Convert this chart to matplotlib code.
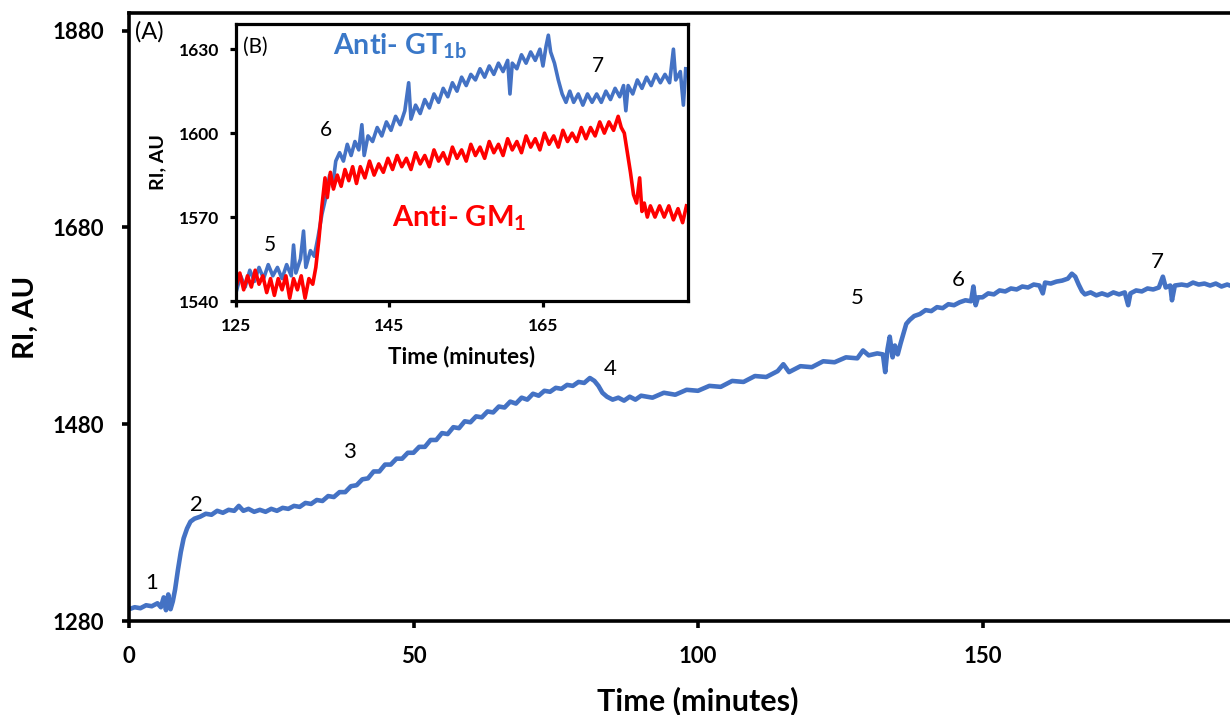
import matplotlib
matplotlib.use("Agg")
import matplotlib.pyplot as plt

plt.rcParams['font.family'] = ['Lato', 'DejaVu Sans']
plt.rcParams['mathtext.fontset'] = 'custom'
plt.rcParams['mathtext.rm'] = 'Lato'
plt.rcParams['mathtext.bf'] = 'Lato:bold'

# ---------------- main trace (A): (time, RI) ----------------
main_trace = [
    (0, 1292), (1, 1294), (2, 1293), (3, 1296), (4, 1295), (5, 1298), (5.6, 1294), (6.1, 1304),
    (6.5, 1291), (6.9, 1307), (7.3, 1292), (7.7, 1300), (8.1, 1312), (8.6, 1332), (9.1, 1350),
    (9.6, 1364), (10.2, 1374), (10.8, 1381), (11.5, 1384), (12.5, 1386), (13.5, 1389),
    (14.5, 1388), (15.5, 1392), (16.5, 1390), (17.5, 1393), (18.5, 1392), (19.3, 1397),
    (20.1, 1392), (21, 1394), (22, 1391), (23, 1393), (24, 1391), (25, 1394), (26, 1392),
    (27, 1395), (28, 1394), (29, 1397), (30, 1396), (31, 1400), (32, 1399), (33, 1403),
    (34, 1402), (35, 1407), (36, 1406), (37, 1411), (38, 1411), (39, 1417), (40, 1418),
    (41, 1424), (42, 1425), (43, 1432), (44, 1432), (45, 1439), (46, 1439), (47, 1445),
    (48, 1445), (49, 1451), (50, 1451), (51, 1457), (52, 1457), (53, 1464), (54, 1464),
    (55, 1471), (56, 1470), (57, 1477), (58, 1476), (59, 1483), (60, 1482), (61, 1488),
    (62, 1487), (63, 1493), (64, 1492), (65, 1498), (66, 1497), (67, 1503), (68, 1501),
    (69, 1507), (70, 1505), (71, 1511), (72, 1509), (73, 1514), (74, 1513), (75, 1517),
    (76, 1516), (77, 1520), (78, 1519), (79, 1523), (80, 1522), (81, 1527), (81.8, 1524),
    (82.5, 1519), (83.2, 1512), (84, 1508), (85, 1505), (86, 1507), (87, 1504), (88, 1508),
    (89, 1505), (90, 1509), (92, 1507), (94, 1512), (96, 1510), (98, 1515), (100, 1514),
    (102, 1519), (104, 1518), (106, 1524), (108, 1523), (110, 1529), (112, 1528), (114, 1534),
    (115, 1541), (116, 1533), (118, 1539), (120, 1538), (122, 1544), (124, 1543), (126, 1548),
    (128, 1547), (129, 1555), (130, 1550), (131.5, 1552), (132.5, 1551), (132.9, 1533),
    (133.3, 1556), (133.7, 1569), (134.2, 1548), (134.6, 1560), (135.1, 1551), (135.6, 1562),
    (136.1, 1572), (136.6, 1582), (137.2, 1586), (138.0, 1590), (139, 1592), (140, 1596),
    (141, 1595), (142, 1599), (143, 1598), (144, 1602), (145, 1601), (146, 1604), (147, 1606),
    (148, 1605), (148.4, 1620), (148.8, 1601), (149.2, 1609), (150, 1609), (151, 1613),
    (152, 1612), (153, 1616), (154, 1615), (155, 1618), (156, 1617), (157, 1620), (158, 1619),
    (159, 1622), (160, 1621), (160.6, 1613), (161, 1624), (162, 1623), (163, 1625), (164, 1626),
    (165, 1628), (165.7, 1633), (166.3, 1630), (166.9, 1622), (167.5, 1615), (168, 1612),
    (169, 1614), (170, 1611), (171, 1613), (172, 1611), (173, 1614), (174, 1612), (175, 1614),
    (175.6, 1601), (176, 1613), (177, 1616), (178, 1615), (179, 1618), (180, 1617), (181, 1619),
    (181.7, 1630), (182.2, 1619), (183, 1621), (183.3, 1606), (183.8, 1621), (185, 1622),
    (186, 1621), (187, 1624), (188, 1622), (189, 1623), (190, 1621), (191, 1623), (192, 1620),
    (193, 1622), (194, 1620), (196, 1621),
]
main_labels = ['1', '2', '3', '4', '5', '6', '7']
main_label_t = [4.0, 11.8, 38.8, 84.5, 127.9, 145.7, 180.7]
main_label_v = [1319, 1398, 1452, 1536, 1608, 1627, 1645]

# ---------------- inset traces (B) ----------------
gt_trace = [
    (125.0, 1543), (125.6, 1549), (126.2, 1545), (126.8, 1551), (127.4, 1547), (128.0, 1552),
    (128.6, 1548), (129.2, 1553), (129.8, 1549), (130.4, 1552), (131.0, 1548), (131.6, 1553),
    (132.2, 1549), (132.5, 1560), (132.8, 1550), (133.4, 1555), (133.8, 1565), (134.1, 1552),
    (134.7, 1558), (135.2, 1556), (135.7, 1563), (136.2, 1571), (136.7, 1577), (137.2, 1585),
    (137.6, 1581), (138.0, 1590), (138.5, 1593), (139.0, 1590), (139.5, 1596), (140.0, 1592),
    (140.5, 1597), (141.0, 1594), (141.4, 1603), (141.7, 1592), (142.2, 1599), (142.8, 1597),
    (143.4, 1602), (144.0, 1599), (144.6, 1604), (145.2, 1601), (145.8, 1606), (146.4, 1603),
    (147.0, 1608), (147.5, 1618), (147.8, 1605), (148.4, 1610), (149.0, 1607), (149.6, 1612),
    (150.2, 1609), (150.8, 1614), (151.4, 1611), (152.0, 1616), (152.6, 1613), (153.2, 1618),
    (153.8, 1615), (154.4, 1620), (155.0, 1617), (155.6, 1621), (156.2, 1619), (156.8, 1623),
    (157.4, 1620), (158.0, 1624), (158.6, 1621), (159.2, 1625), (159.8, 1622), (160.4, 1626),
    (160.7, 1614), (161.0, 1625), (161.6, 1623), (162.2, 1628), (162.8, 1625), (163.4, 1629),
    (164.0, 1626), (164.6, 1630), (165.0, 1624), (165.4, 1631), (165.7, 1635), (166.0, 1629),
    (166.5, 1625), (167.0, 1619), (167.5, 1614), (168.0, 1611), (168.5, 1615), (169.0, 1611),
    (169.6, 1614), (170.2, 1610), (170.8, 1614), (171.4, 1611), (172.0, 1614), (172.6, 1611),
    (173.2, 1615), (173.8, 1612), (174.4, 1616), (175.0, 1613), (175.5, 1617), (175.8, 1608),
    (176.1, 1617), (176.7, 1614), (177.3, 1619), (177.9, 1616), (178.5, 1620), (179.1, 1617),
    (179.7, 1621), (180.3, 1618), (180.9, 1621), (181.5, 1618), (182.0, 1630), (182.3, 1619),
    (182.9, 1622), (183.3, 1610), (183.6, 1623),
]
gm_trace = [
    (125.0, 1545), (125.5, 1550), (126.0, 1544), (126.5, 1549), (127.0, 1545), (127.5, 1551),
    (128.0, 1546), (128.5, 1549), (129.0, 1543), (129.5, 1548), (130.0, 1542), (130.5, 1548),
    (131.0, 1544), (131.5, 1549), (132.0, 1541), (132.5, 1548), (133.0, 1544), (133.5, 1549),
    (134.0, 1541), (134.5, 1548), (135.0, 1546), (135.4, 1552), (135.8, 1562), (136.2, 1574),
    (136.6, 1584), (136.9, 1577), (137.3, 1586), (137.7, 1580), (138.2, 1585), (138.7, 1581),
    (139.2, 1587), (139.7, 1583), (140.2, 1588), (140.7, 1582), (141.2, 1588), (141.8, 1584),
    (142.4, 1590), (143.0, 1585), (143.6, 1589), (144.2, 1586), (144.8, 1591), (145.4, 1587),
    (146.0, 1592), (146.6, 1588), (147.2, 1591), (147.8, 1587), (148.4, 1593), (149.0, 1589),
    (149.6, 1592), (150.2, 1588), (150.8, 1594), (151.4, 1590), (152.0, 1593), (152.6, 1589),
    (153.2, 1595), (153.8, 1591), (154.4, 1594), (155.0, 1590), (155.6, 1596), (156.2, 1592),
    (156.8, 1595), (157.4, 1591), (158.0, 1597), (158.6, 1593), (159.2, 1596), (159.8, 1592),
    (160.4, 1598), (161.0, 1594), (161.6, 1597), (162.2, 1593), (162.8, 1599), (163.4, 1595),
    (164.0, 1598), (164.6, 1594), (165.2, 1600), (165.8, 1596), (166.4, 1599), (167.0, 1595),
    (167.6, 1601), (168.2, 1597), (168.8, 1600), (169.4, 1597), (170.0, 1602), (170.6, 1598),
    (171.2, 1602), (171.8, 1599), (172.4, 1604), (173.0, 1600), (173.6, 1604), (174.2, 1601),
    (174.8, 1606), (175.2, 1602), (175.6, 1600), (176.0, 1593), (176.4, 1586), (176.8, 1578),
    (177.2, 1575), (177.6, 1584), (177.9, 1572), (178.2, 1575), (178.6, 1570), (179.0, 1574),
    (179.6, 1570), (180.2, 1574), (180.8, 1570), (181.4, 1574), (182.0, 1569), (182.6, 1573),
    (183.2, 1568), (183.7, 1574),
]
inset_labels = ['5', '6', '7']
inset_label_t = [129.4, 136.7, 172.2]
inset_label_v = [1560, 1601, 1624]

BLUE = '#4472C4'
RED = '#FF0000'

main_t, main_v = zip(*main_trace)
gt_t, gt_v = zip(*gt_trace)
gm_t, gm_v = zip(*gm_trace)

fig = plt.figure(figsize=(12.3, 7.15), dpi=100)
AX_L, AX_R, AX_T, AX_B = 129, 1267, 13, 621
ax = fig.add_axes([AX_L/1230, 1-AX_B/715, (AX_R-AX_L)/1230, (AX_B-AX_T)/715])
ax.plot(main_t, main_v, color=BLUE, lw=3.3)
ax.set_xlim(0, 200)
ax.set_ylim(1280, 1898)
ax.set_xticks([0, 50, 100, 150])
ax.set_yticks([1280, 1480, 1680, 1880])
for s in ['left', 'bottom', 'top']:
    ax.spines[s].set_linewidth(2.6)
ax.spines['right'].set_visible(False)
ax.tick_params(axis='both', direction='out', length=5, width=2.6, labelsize=16, pad=13)
for lab in ax.get_xticklabels() + ax.get_yticklabels():
    lab.set_fontweight('bold')
ax.set_xlabel('Time (minutes)', fontsize=22, fontweight='bold')
ax.xaxis.set_label_coords(0.5, -(686-AX_B)/(AX_B-AX_T))
ax.set_ylabel('RI, AU', fontsize=21, fontweight='bold')
ax.yaxis.set_label_coords(-(AX_L-39)/(AX_R-AX_L), 0.5)
for s, t, v in zip(main_labels, main_label_t, main_label_v):
    ax.text(t, v, s, fontsize=16, ha='center', va='center')
ax.text(1.0, 1879, '(A)', fontsize=17, ha='left', va='center')

# inset
IL, IR, IT, IB = 236, 688, 24, 301
axi = fig.add_axes([IL/1230, 1-IB/715, (IR-IL)/1230, (IB-IT)/715])
axi.plot(gm_t, gm_v, color=RED, lw=2.6, zorder=2)
axi.plot(gt_t, gt_v, color=BLUE, lw=2.6, zorder=1)
axi.set_xlim(125, 183.9)
axi.set_ylim(1540, 1639)
axi.set_xticks([125, 145, 165])
axi.set_yticks([1540, 1570, 1600, 1630])
for s in axi.spines.values():
    s.set_linewidth(2.3)
axi.tick_params(axis='both', direction='out', length=4, width=2.3, labelsize=12.5, pad=8)
for lab in axi.get_xticklabels() + axi.get_yticklabels():
    lab.set_fontweight('bold')
axi.set_xlabel('Time (minutes)', fontsize=16, fontweight='bold')
axi.xaxis.set_label_coords(0.5, -(346-IB)/(IB-IT))
axi.set_ylabel('RI, AU', fontsize=14, fontweight='bold')
axi.yaxis.set_label_coords(-(IL-166)/(IR-IL), 0.5)
for s, t, v in zip(inset_labels, inset_label_t, inset_label_v):
    axi.text(t, v, s, fontsize=15, ha='center', va='center')
axi.text(125.9, 1631, '(B)', fontsize=15, ha='left', va='center')
axi.text(137.6, 1631, r'Anti- GT$_{\mathbf{1b}}$', fontsize=20.5, fontweight='bold',
         color='#3A78C8', ha='left', va='center')
axi.text(145.3, 1569.8, r'Anti- GM$_{\mathbf{1}}$', fontsize=21, fontweight='bold',
         color=RED, ha='left', va='center')

fig.savefig('out.png', dpi=100)
